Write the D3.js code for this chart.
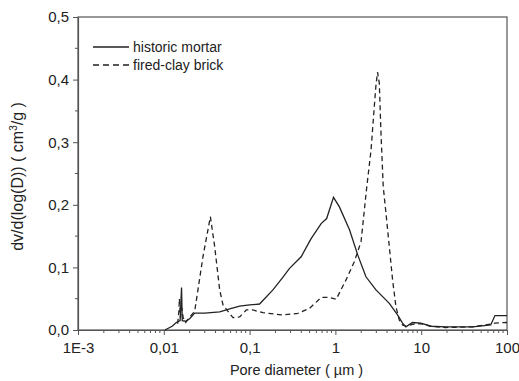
<!DOCTYPE html>
<html>
<head>
<meta charset="utf-8">
<script src="https://cdn.jsdelivr.net/npm/d3@7"></script>
<style>
  body { margin: 0; background: #fff; }
  svg { display: block; font-family: "Liberation Sans", Arial, sans-serif; }
</style>
</head>
<body>
<div id="chart"></div>
<script>
// pore diameter (µm) and dV/dlog(D) (cm3/g)
const mortarD = [0.0103, 0.0125, 0.0140, 0.0155, 0.0161, 0.0164, 0.018, 0.020, 0.0229, 0.030, 0.0448, 0.060,
  0.0766, 0.100, 0.1306, 0.187, 0.240, 0.292, 0.399, 0.521, 0.682, 0.791, 0.95, 1.11, 1.46, 1.82, 2.27, 2.97,
  4.25, 5.3, 6.06, 6.64, 7.9, 9.9, 13, 19.4, 40, 64.6, 72.4, 96.6, 100];
const mortarV = [0.0, 0.006, 0.012, 0.015, 0.068, 0.015, 0.014, 0.018, 0.027, 0.027, 0.029, 0.034,
  0.038, 0.040, 0.0415, 0.064, 0.083, 0.0985, 0.117, 0.146, 0.170, 0.178, 0.212, 0.197, 0.160, 0.120, 0.085, 0.064,
  0.0426, 0.024, 0.011, 0.005, 0.012, 0.011, 0.006, 0.005, 0.005, 0.008, 0.023, 0.023, 0.023];

const brickD = [0.0145, 0.0150, 0.0152, 0.0156, 0.0162, 0.0168, 0.018, 0.0201, 0.0229, 0.0240, 0.0286, 0.0349,
  0.0392, 0.0448, 0.049, 0.064, 0.0766, 0.0916, 0.109, 0.143, 0.244, 0.365, 0.499, 0.682, 0.851, 1.02,
  1.33, 1.66, 1.99, 2.31, 2.60, 2.84, 2.97, 3.10, 3.25, 3.40, 3.61, 3.89, 4.25, 4.64, 5.08, 5.55, 6.06,
  6.64, 7.9, 9.9, 13, 19.4, 40, 64.6, 72, 100];
const brickV = [0.010, 0.030, 0.050, 0.020, 0.035, 0.020, 0.012, 0.021, 0.030, 0.048, 0.117, 0.181,
  0.133, 0.064, 0.040, 0.0197, 0.021, 0.032, 0.032, 0.0277, 0.024, 0.0266, 0.0346, 0.052, 0.052, 0.049,
  0.080, 0.109, 0.141, 0.226, 0.287, 0.357, 0.391, 0.412, 0.394, 0.314, 0.229, 0.186, 0.133, 0.080, 0.037, 0.016, 0.008,
  0.006, 0.009, 0.010, 0.006, 0.004, 0.005, 0.0096, 0.011, 0.012];

const xTicks = [0.001, 0.01, 0.1, 1, 10, 100];
const xTickLabels = ["1E-3", "0,01", "0,1", "1", "10", "100"];
const yTicks = [0, 0.1, 0.2, 0.3, 0.4, 0.5];
const yTickLabels = ["0,0", "0,1", "0,2", "0,3", "0,4", "0,5"];
const seriesNames = ["historic mortar", "fired-clay brick"];

const width = 519, height = 381;
const margin = { top: 17, right: 12, bottom: 51, left: 78 };

const svg = d3.select("#chart").append("svg")
  .attr("width", width)
  .attr("height", height);

const x = d3.scaleLog().domain([0.001, 100]).range([margin.left, width - margin.right]);
const y = d3.scaleLinear().domain([0, 0.5]).range([height - margin.bottom, margin.top]);

const axisColor = "#555";
const lineColor = "#222";

// frame
svg.append("rect")
  .attr("x", margin.left)
  .attr("y", margin.top)
  .attr("width", width - margin.right - margin.left)
  .attr("height", height - margin.bottom - margin.top)
  .attr("fill", "none")
  .attr("stroke", axisColor)
  .attr("stroke-width", 1.2);

// minor ticks
const xMinor = [];
for (let e = -3; e < 2; e++) for (let m = 2; m <= 9; m++) xMinor.push(m * Math.pow(10, e));
const yMinor = [0.05, 0.15, 0.25, 0.35, 0.45];

const xAxis = svg.append("g")
  .attr("transform", `translate(0,${height - margin.bottom})`);
xAxis.selectAll("line.minor").data(xMinor).join("line")
  .attr("class", "minor")
  .attr("x1", d => x(d)).attr("x2", d => x(d))
  .attr("y1", 0).attr("y2", 3)
  .attr("stroke", axisColor);
xAxis.call(d3.axisBottom(x).tickValues(xTicks).tickFormat((d, i) => xTickLabels[i]).tickSize(5).tickSizeOuter(0))
  .call(g => g.select(".domain").attr("stroke", axisColor).attr("stroke-width", 1.2))
  .call(g => g.selectAll(".tick line").attr("stroke", axisColor))
  .call(g => g.selectAll(".tick text").attr("font-size", 15).attr("fill", "#222").attr("dy", "1.0em"));

const yAxis = svg.append("g")
  .attr("transform", `translate(${margin.left},0)`);
yAxis.selectAll("line.minor").data(yMinor).join("line")
  .attr("class", "minor")
  .attr("y1", d => y(d)).attr("y2", d => y(d))
  .attr("x1", 0).attr("x2", -3)
  .attr("stroke", axisColor);
yAxis.call(d3.axisLeft(y).tickValues(yTicks).tickFormat((d, i) => yTickLabels[i]).tickSize(5).tickSizeOuter(0))
  .call(g => g.select(".domain").attr("stroke", axisColor).attr("stroke-width", 1.2))
  .call(g => g.selectAll(".tick line").attr("stroke", axisColor))
  .call(g => g.selectAll(".tick text").attr("font-size", 15).attr("fill", "#222").attr("x", -9));

// axis titles
svg.append("text")
  .attr("x", (margin.left + width - margin.right) / 2 + 4)
  .attr("y", 375)
  .attr("text-anchor", "middle")
  .attr("font-size", 14.5)
  .attr("fill", "#222")
  .text("Pore diameter ( \u00b5m )");

const yTitle = svg.append("text")
  .attr("transform", `translate(23,${(margin.top + height - margin.bottom) / 2 + 3}) rotate(-90)`)
  .attr("text-anchor", "middle")
  .attr("font-size", 16)
  .attr("fill", "#222");
yTitle.append("tspan").text("dv/d(log(D)) ( cm");
yTitle.append("tspan").attr("font-size", 10).attr("dy", -6).text("3");
yTitle.append("tspan").attr("dy", 6).text("/g )");

// curves
const line = d3.line().x(d => x(d[0])).y(d => y(d[1]));
const mortar = d3.zip(mortarD, mortarV);
const brick = d3.zip(brickD, brickV);

svg.append("path")
  .datum(brick)
  .attr("d", line)
  .attr("fill", "none")
  .attr("stroke", lineColor)
  .attr("stroke-width", 1.3)
  .attr("stroke-dasharray", "5,3.5");

svg.append("path")
  .datum(mortar)
  .attr("d", line)
  .attr("fill", "none")
  .attr("stroke", lineColor)
  .attr("stroke-width", 1.3);

// legend
const legend = svg.append("g").attr("transform", "translate(93,47)");
legend.selectAll("line").data(seriesNames).join("line")
  .attr("x1", 0).attr("x2", 36)
  .attr("y1", (d, i) => i * 18).attr("y2", (d, i) => i * 18)
  .attr("stroke", lineColor)
  .attr("stroke-width", 1.3)
  .attr("stroke-dasharray", (d, i) => i ? "6,4" : null);
legend.selectAll("text").data(seriesNames).join("text")
  .attr("x", 40)
  .attr("y", (d, i) => i * 18 + 5)
  .attr("font-size", 14)
  .attr("fill", "#222")
  .text(d => d);
</script>
</body>
</html>
